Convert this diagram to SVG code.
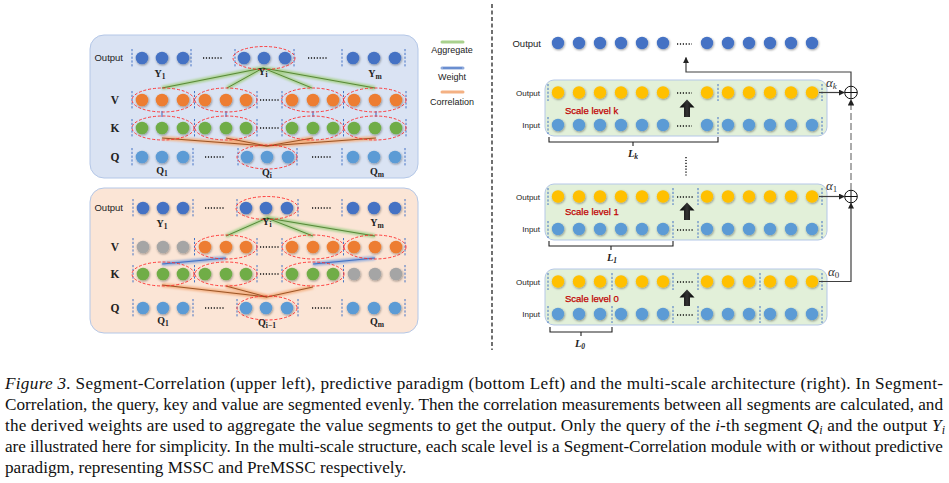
<svg xmlns="http://www.w3.org/2000/svg" width="949" height="483" viewBox="0 0 949 483">
<defs>
<filter id="sh" x="-60%" y="-60%" width="220%" height="220%"><feDropShadow dx="0.6" dy="1" stdDeviation="0.8" flood-color="#000" flood-opacity="0.4"/></filter>
<filter id="glow" x="-20%" y="-80%" width="140%" height="260%"><feGaussianBlur stdDeviation="1.1"/></filter>
<marker id="ah" viewBox="0 0 6 6" refX="5.6" refY="3" markerWidth="5" markerHeight="5" orient="auto"><path d="M0,0 L6,3 L0,6 z" fill="#222"/></marker>
<linearGradient id="arrg" x1="0" y1="0" x2="1" y2="0"><stop offset="0" stop-color="#000"/><stop offset="0.5" stop-color="#333"/><stop offset="1" stop-color="#000"/></linearGradient>
<style>
.cb{fill:#4472C4}.cq{fill:#5B9BD5}.co{fill:#ED7D31}.cg{fill:#70AD47}.cx{fill:#A5A5A5}.cy{fill:#FFC000}
.ell{fill:none;stroke:#FF2a2a;stroke-width:0.9;stroke-dasharray:3 1.8}
.sep{stroke:#4472C4;stroke-width:1;stroke-dasharray:2.2 1.6}
.dots{stroke:#111;stroke-width:1.4;stroke-dasharray:1.2 1.7}
.gg{stroke:#A9D18E;stroke-width:4;fill:none;filter:url(#glow)}
.gl{stroke:#4E7F2E;stroke-width:0.9;fill:none}
.bg{stroke:#8FAADC;stroke-width:4;fill:none;filter:url(#glow)}
.bl{stroke:#4472C4;stroke-width:1.1;fill:none}
.og{stroke:#F4B183;stroke-width:4;fill:none;filter:url(#glow)}
.ol{stroke:#843C0C;stroke-width:0.8;fill:none}
.rowlab{font-family:"Liberation Serif",serif;font-weight:bold;font-size:11.5px;fill:#222;text-anchor:middle}
.outlab{font-family:"Liberation Sans",Arial,sans-serif;font-size:9.5px;fill:#222;text-anchor:end}
.lab{font-family:"Liberation Serif",serif;font-weight:bold;font-size:10px;fill:#222;text-anchor:middle}
.sub{font-size:7.5px}
.asub{font-size:9px}
.leg{font-family:"Liberation Sans",Arial,sans-serif;font-size:9px;fill:#222;text-anchor:middle}
.small{font-family:"Liberation Sans",Arial,sans-serif;font-size:8px;fill:#222;text-anchor:end}
.red{font-family:"Liberation Sans",Arial,sans-serif;font-size:9.5px;fill:#C00000;stroke:#C00000;stroke-width:0.25}
.alpha{font-family:"Liberation Serif",serif;font-style:italic;font-size:13px;fill:#333}
.L{font-family:"Liberation Serif",serif;font-style:italic;font-weight:bold;font-size:10.5px;fill:#222;text-anchor:middle}
.box{fill:#E2F0D9;stroke:#B4C7E7;stroke-width:1}
.conn{stroke:#404040;stroke-width:1.2;fill:none}
.cap{font-family:"Liberation Serif","Times New Roman",serif;font-size:17.2px;fill:#111}
</style>
</defs>

<!-- ============ Upper-left: Segment-Correlation ============ -->
<g id="panel-segment-correlation">
<rect x="90" y="35" width="328" height="143" rx="14" fill="#DAE3F3" stroke="#B4C7E7"/>
<text class="outlab" x="123" y="61">Output</text>
<text class="rowlab" x="115" y="104">V</text>
<text class="rowlab" x="115" y="132">K</text>
<text class="rowlab" x="115" y="161">Q</text>
</g>

<g id="connectors-upper">
<g>
<polyline class="gg" points="162,88 263,68 227,88"/><polyline class="gg" points="312,88 263,68 375,88"/>
<line class="gl" x1="263" y1="68" x2="162" y2="88"/><line class="gl" x1="263" y1="68" x2="227" y2="88"/>
<line class="gl" x1="263" y1="68" x2="312" y2="88"/><line class="gl" x1="263" y1="68" x2="375" y2="88"/>
</g>
<g>
<line class="bg" x1="162" y1="111" x2="162" y2="117"/><line class="bg" x1="226" y1="111" x2="226" y2="117"/>
<line class="bg" x1="313" y1="111" x2="313" y2="117"/><line class="bg" x1="376" y1="111" x2="376" y2="117"/>
<line class="bl" x1="162" y1="111" x2="162" y2="117"/><line class="bl" x1="226" y1="111" x2="226" y2="117"/>
<line class="bl" x1="313" y1="111" x2="313" y2="117"/><line class="bl" x1="376" y1="111" x2="376" y2="117"/>
</g>
<g>
<polyline class="og" points="162,138 267,146 226,138"/><polyline class="og" points="313,138 267,146 376,138"/>
<line class="ol" x1="162" y1="138" x2="267" y2="146"/><line class="ol" x1="226" y1="138" x2="267" y2="146"/>
<line class="ol" x1="313" y1="138" x2="267" y2="146"/><line class="ol" x1="376" y1="138" x2="267" y2="146"/>
</g>
</g>

<g id="upper-output">
<g filter="url(#sh)" class="cb"><circle cx="142" cy="58" r="6.3"/><circle cx="162" cy="58" r="6.3"/><circle cx="183" cy="58" r="6.3"/><circle cx="244" cy="58" r="6.3"/><circle cx="264" cy="58" r="6.3"/><circle cx="285" cy="58" r="6.3"/><circle cx="353" cy="58" r="6.3"/><circle cx="374" cy="58" r="6.3"/><circle cx="395" cy="58" r="6.3"/></g>
<line class="sep" x1="132" y1="49" x2="132" y2="67"/><line class="sep" x1="191" y1="49" x2="191" y2="67"/><line class="sep" x1="235" y1="49" x2="235" y2="67"/><line class="sep" x1="294" y1="49" x2="294" y2="67"/><line class="sep" x1="342" y1="49" x2="342" y2="67"/><line class="sep" x1="405" y1="49" x2="405" y2="67"/>
<line class="dots" x1="203" y1="58" x2="222" y2="58"/><line class="dots" x1="308" y1="58" x2="328" y2="58"/>
<ellipse class="ell" cx="264" cy="58" rx="31" ry="11.5"/>
<text class="lab" x="160" y="77">Y<tspan class="sub" dy="2">1</tspan></text>
<text class="lab" x="263" y="75">Y<tspan class="sub" dy="2">i</tspan></text>
<text class="lab" x="375" y="77">Y<tspan class="sub" dy="2">m</tspan></text>
</g>

<g id="upper-V">
<g filter="url(#sh)" class="co"><circle cx="142" cy="100" r="6.3"/><circle cx="162" cy="100" r="6.3"/><circle cx="183" cy="100" r="6.3"/><circle cx="205" cy="100" r="6.3"/><circle cx="226" cy="100" r="6.3"/><circle cx="246" cy="100" r="6.3"/><circle cx="292" cy="100" r="6.3"/><circle cx="313" cy="100" r="6.3"/><circle cx="333" cy="100" r="6.3"/><circle cx="354" cy="100" r="6.3"/><circle cx="375" cy="100" r="6.3"/><circle cx="396" cy="100" r="6.3"/></g>
<line class="sep" x1="132" y1="91" x2="132" y2="109"/><line class="sep" x1="194.5" y1="91" x2="194.5" y2="109"/><line class="sep" x1="257" y1="91" x2="257" y2="109"/><line class="sep" x1="282" y1="91" x2="282" y2="109"/><line class="sep" x1="343.5" y1="91" x2="343.5" y2="109"/><line class="sep" x1="406" y1="91" x2="406" y2="109"/>
<line class="dots" x1="260" y1="100" x2="279" y2="100"/>
<ellipse class="ell" cx="163" cy="100" rx="31" ry="12"/><ellipse class="ell" cx="226" cy="100" rx="31" ry="12"/><ellipse class="ell" cx="312.5" cy="100" rx="31" ry="12"/><ellipse class="ell" cx="375" cy="100" rx="31" ry="12"/>
</g>

<g id="upper-K">
<g filter="url(#sh)" class="cg"><circle cx="142" cy="128" r="6.3"/><circle cx="162" cy="128" r="6.3"/><circle cx="183" cy="128" r="6.3"/><circle cx="205" cy="128" r="6.3"/><circle cx="226" cy="128" r="6.3"/><circle cx="246" cy="128" r="6.3"/><circle cx="292" cy="128" r="6.3"/><circle cx="313" cy="128" r="6.3"/><circle cx="333" cy="128" r="6.3"/><circle cx="354" cy="128" r="6.3"/><circle cx="375" cy="128" r="6.3"/><circle cx="396" cy="128" r="6.3"/></g>
<line class="sep" x1="132" y1="119" x2="132" y2="137"/><line class="sep" x1="194.5" y1="119" x2="194.5" y2="137"/><line class="sep" x1="257" y1="119" x2="257" y2="137"/><line class="sep" x1="282" y1="119" x2="282" y2="137"/><line class="sep" x1="343.5" y1="119" x2="343.5" y2="137"/><line class="sep" x1="406" y1="119" x2="406" y2="137"/>
<line class="dots" x1="260" y1="128" x2="279" y2="128"/>
<ellipse class="ell" cx="163" cy="128" rx="31" ry="12"/><ellipse class="ell" cx="226" cy="128" rx="31" ry="12"/><ellipse class="ell" cx="312.5" cy="128" rx="31" ry="12"/><ellipse class="ell" cx="375" cy="128" rx="31" ry="12"/>
</g>

<g id="upper-Q">
<g filter="url(#sh)" class="cq"><circle cx="142" cy="157" r="6.3"/><circle cx="162" cy="157" r="6.3"/><circle cx="183" cy="157" r="6.3"/><circle cx="247" cy="157" r="6.3"/><circle cx="267" cy="157" r="6.3"/><circle cx="288" cy="157" r="6.3"/><circle cx="353" cy="157" r="6.3"/><circle cx="374" cy="157" r="6.3"/><circle cx="395" cy="157" r="6.3"/></g>
<line class="sep" x1="132" y1="148" x2="132" y2="166"/><line class="sep" x1="193" y1="148" x2="193" y2="166"/><line class="sep" x1="238" y1="148" x2="238" y2="166"/><line class="sep" x1="297" y1="148" x2="297" y2="166"/><line class="sep" x1="342" y1="148" x2="342" y2="166"/><line class="sep" x1="405" y1="148" x2="405" y2="166"/>
<line class="dots" x1="205" y1="157" x2="224" y2="157"/><line class="dots" x1="312" y1="157" x2="331" y2="157"/>
<ellipse class="ell" cx="267" cy="157" rx="30" ry="12"/>
<text class="lab" x="162" y="174">Q<tspan class="sub" dy="2">1</tspan></text>
<text class="lab" x="267" y="176">Q<tspan class="sub" dy="2">i</tspan></text>
<text class="lab" x="377" y="175">Q<tspan class="sub" dy="2">m</tspan></text>
</g>

<!-- ============ Lower-left: predictive paradigm ============ -->
<g id="panel-predictive-paradigm">
<rect x="90" y="188" width="328" height="145" rx="14" fill="#FBE5D6" stroke="#B4C7E7"/>
<text class="outlab" x="123" y="211">Output</text>
<text class="rowlab" x="115" y="251">V</text>
<text class="rowlab" x="115" y="278">K</text>
<text class="rowlab" x="115" y="312">Q</text>
</g>

<g id="connectors-lower">
<g>
<polyline class="gg" points="226,236 267,218 313,236"/><line class="gg" x1="267" y1="218" x2="375" y2="236"/>
<line class="gl" x1="267" y1="218" x2="226" y2="236"/><line class="gl" x1="267" y1="218" x2="313" y2="236"/><line class="gl" x1="267" y1="218" x2="375" y2="236"/>
</g>
<g>
<line class="bg" x1="162" y1="264" x2="226" y2="258"/><line class="bg" x1="313" y1="264" x2="375" y2="258"/>
<line class="bl" x1="162" y1="264" x2="226" y2="258"/><line class="bl" x1="313" y1="264" x2="375" y2="258"/>
</g>
<g>
<polyline class="og" points="162,285 267,297 313,287"/><line class="og" x1="226" y1="286" x2="267" y2="297"/>
<line class="ol" x1="162" y1="285" x2="267" y2="297"/><line class="ol" x1="226" y1="286" x2="267" y2="297"/><line class="ol" x1="313" y1="287" x2="267" y2="297"/>
</g>
</g>

<g id="lower-output">
<g filter="url(#sh)" class="cb"><circle cx="143" cy="208" r="6.3"/><circle cx="163" cy="208" r="6.3"/><circle cx="183" cy="208" r="6.3"/><circle cx="246" cy="208" r="6.3"/><circle cx="266" cy="208" r="6.3"/><circle cx="287" cy="208" r="6.3"/><circle cx="353" cy="208" r="6.3"/><circle cx="374" cy="208" r="6.3"/><circle cx="395" cy="208" r="6.3"/></g>
<line class="sep" x1="133" y1="199" x2="133" y2="217"/><line class="sep" x1="193" y1="199" x2="193" y2="217"/><line class="sep" x1="237" y1="199" x2="237" y2="217"/><line class="sep" x1="298" y1="199" x2="298" y2="217"/><line class="sep" x1="342" y1="199" x2="342" y2="217"/><line class="sep" x1="405" y1="199" x2="405" y2="217"/>
<line class="dots" x1="205" y1="208" x2="224" y2="208"/><line class="dots" x1="312" y1="208" x2="331" y2="208"/>
<ellipse class="ell" cx="267" cy="208" rx="31" ry="11.5"/>
<text class="lab" x="162" y="227">Y<tspan class="sub" dy="2">1</tspan></text>
<text class="lab" x="267" y="225">Y<tspan class="sub" dy="2">i</tspan></text>
<text class="lab" x="377" y="226">Y<tspan class="sub" dy="2">m</tspan></text>
</g>

<g id="lower-V">
<g filter="url(#sh)"><circle class="cx" cx="143" cy="247" r="6.3"/><circle class="cx" cx="163" cy="247" r="6.3"/><circle class="cx" cx="183" cy="247" r="6.3"/><circle class="co" cx="205" cy="247" r="6.3"/><circle class="co" cx="226" cy="247" r="6.3"/><circle class="co" cx="246" cy="247" r="6.3"/><circle class="co" cx="292" cy="247" r="6.3"/><circle class="co" cx="313" cy="247" r="6.3"/><circle class="co" cx="333" cy="247" r="6.3"/><circle class="co" cx="354" cy="247" r="6.3"/><circle class="co" cx="375" cy="247" r="6.3"/><circle class="co" cx="396" cy="247" r="6.3"/></g>
<line class="sep" x1="133" y1="238" x2="133" y2="256"/><line class="sep" x1="194.5" y1="238" x2="194.5" y2="256"/><line class="sep" x1="257" y1="238" x2="257" y2="256"/><line class="sep" x1="282" y1="238" x2="282" y2="256"/><line class="sep" x1="343.5" y1="238" x2="343.5" y2="256"/><line class="sep" x1="405" y1="238" x2="405" y2="256"/>
<line class="dots" x1="260" y1="247" x2="279" y2="247"/>
<ellipse class="ell" cx="226" cy="247" rx="31" ry="12"/><ellipse class="ell" cx="313" cy="247" rx="31" ry="12"/><ellipse class="ell" cx="375" cy="247" rx="31" ry="12"/>
</g>

<g id="lower-K">
<g filter="url(#sh)"><circle class="cg" cx="143" cy="274" r="6.3"/><circle class="cg" cx="163" cy="274" r="6.3"/><circle class="cg" cx="183" cy="274" r="6.3"/><circle class="cg" cx="205" cy="274" r="6.3"/><circle class="cg" cx="226" cy="274" r="6.3"/><circle class="cg" cx="246" cy="274" r="6.3"/><circle class="cg" cx="292" cy="274" r="6.3"/><circle class="cg" cx="313" cy="274" r="6.3"/><circle class="cg" cx="333" cy="274" r="6.3"/><circle class="cx" cx="354" cy="274" r="6.3"/><circle class="cx" cx="375" cy="274" r="6.3"/><circle class="cx" cx="396" cy="274" r="6.3"/></g>
<line class="sep" x1="133" y1="265" x2="133" y2="283"/><line class="sep" x1="194.5" y1="265" x2="194.5" y2="283"/><line class="sep" x1="257" y1="265" x2="257" y2="283"/><line class="sep" x1="282" y1="265" x2="282" y2="283"/><line class="sep" x1="343.5" y1="265" x2="343.5" y2="283"/><line class="sep" x1="405" y1="265" x2="405" y2="283"/>
<line class="dots" x1="260" y1="274" x2="279" y2="274"/>
<ellipse class="ell" cx="163" cy="274" rx="31" ry="12"/><ellipse class="ell" cx="226" cy="274" rx="31" ry="12"/><ellipse class="ell" cx="313" cy="274" rx="31" ry="12"/>
</g>

<g id="lower-Q">
<g filter="url(#sh)" class="cq"><circle cx="143" cy="308" r="6.3"/><circle cx="163" cy="308" r="6.3"/><circle cx="183" cy="308" r="6.3"/><circle cx="246" cy="308" r="6.3"/><circle cx="266" cy="308" r="6.3"/><circle cx="287" cy="308" r="6.3"/><circle cx="353" cy="308" r="6.3"/><circle cx="374" cy="308" r="6.3"/><circle cx="395" cy="308" r="6.3"/></g>
<line class="sep" x1="133" y1="299" x2="133" y2="317"/><line class="sep" x1="193" y1="299" x2="193" y2="317"/><line class="sep" x1="237" y1="299" x2="237" y2="317"/><line class="sep" x1="298" y1="299" x2="298" y2="317"/><line class="sep" x1="342" y1="299" x2="342" y2="317"/><line class="sep" x1="405" y1="299" x2="405" y2="317"/>
<line class="dots" x1="205" y1="308" x2="224" y2="308"/><line class="dots" x1="312" y1="308" x2="331" y2="308"/>
<ellipse class="ell" cx="267" cy="308" rx="30" ry="12"/>
<text class="lab" x="163" y="324">Q<tspan class="sub" dy="2">1</tspan></text>
<text class="lab" x="267" y="326">Q<tspan class="sub" dy="2">i−1</tspan></text>
<text class="lab" x="377" y="325">Q<tspan class="sub" dy="2">m</tspan></text>
</g>

<!-- legend -->
<g id="legend">
<line x1="442" y1="42" x2="463" y2="42" stroke="#A9D18E" stroke-width="3" stroke-linecap="round"/>
<text class="leg" x="452" y="53">Aggregate</text>
<line x1="442" y1="68" x2="463" y2="68" stroke="#8FAADC" stroke-width="3" stroke-linecap="round"/>
<line x1="443" y1="68" x2="462" y2="68" stroke="#4472C4" stroke-width="1"/>
<text class="leg" x="452" y="80">Weight</text>
<line x1="442" y1="92" x2="463" y2="92" stroke="#F4B183" stroke-width="3" stroke-linecap="round"/>
<text class="leg" x="452" y="105">Correlation</text>
</g>

<line id="divider" x1="492" y1="4" x2="492" y2="350" stroke="#111" stroke-width="1.2" stroke-dasharray="4 2.5"/>

<!-- ============ Right: multi-scale architecture ============ -->
<g id="final-output">
<text class="outlab" x="541" y="47" font-size="9.5">Output</text>
<g filter="url(#sh)" class="cb"><circle cx="558" cy="43" r="6.2"/><circle cx="579" cy="43" r="6.2"/><circle cx="600" cy="43" r="6.2"/><circle cx="621" cy="43" r="6.2"/><circle cx="642" cy="43" r="6.2"/><circle cx="663" cy="43" r="6.2"/><circle cx="707" cy="43" r="6.2"/><circle cx="728" cy="43" r="6.2"/><circle cx="749" cy="43" r="6.2"/><circle cx="770" cy="43" r="6.2"/><circle cx="791" cy="43" r="6.2"/><circle cx="812" cy="43" r="6.2"/></g>
<line class="dots" x1="677" y1="44" x2="692" y2="44"/>
</g>

<g id="scale-level-k">
<rect class="box" x="545" y="80" width="282" height="56" rx="9"/>
<text class="small" x="540" y="95.5">Output</text>
<text class="small" x="540" y="128">Input</text>
<text class="red" x="565" y="114">Scale level k</text>
<g filter="url(#sh)" class="cy"><circle cx="558" cy="92.5" r="6.2"/><circle cx="579" cy="92.5" r="6.2"/><circle cx="600" cy="92.5" r="6.2"/><circle cx="621" cy="92.5" r="6.2"/><circle cx="642" cy="92.5" r="6.2"/><circle cx="663" cy="92.5" r="6.2"/><circle cx="707" cy="92.5" r="6.2"/><circle cx="728" cy="92.5" r="6.2"/><circle cx="749" cy="92.5" r="6.2"/><circle cx="770" cy="92.5" r="6.2"/><circle cx="791" cy="92.5" r="6.2"/><circle cx="812" cy="92.5" r="6.2"/></g>
<g filter="url(#sh)" class="cq"><circle cx="558" cy="125" r="6.2"/><circle cx="579" cy="125" r="6.2"/><circle cx="600" cy="125" r="6.2"/><circle cx="621" cy="125" r="6.2"/><circle cx="642" cy="125" r="6.2"/><circle cx="663" cy="125" r="6.2"/><circle cx="707" cy="125" r="6.2"/><circle cx="728" cy="125" r="6.2"/><circle cx="749" cy="125" r="6.2"/><circle cx="770" cy="125" r="6.2"/><circle cx="791" cy="125" r="6.2"/><circle cx="812" cy="125" r="6.2"/></g>
<line class="dots" x1="677" y1="93" x2="692" y2="93"/><line class="dots" x1="677" y1="126" x2="692" y2="126"/>
<g class="sep"><line x1="548" y1="84" x2="548" y2="101"/><line x1="548" y1="117" x2="548" y2="134"/><line x1="718" y1="84" x2="718" y2="101"/><line x1="718" y1="117" x2="718" y2="134"/><line x1="822" y1="84" x2="822" y2="101"/><line x1="822" y1="117" x2="822" y2="134"/></g>
<polygon points="687,99.5 694.5,107.5 690,107.5 690,117 684,117 684,107.5 679.5,107.5" fill="url(#arrg)"/>
<path d="M549,137 V142 H633 V146 M633,142 H718 V137" fill="none" stroke="#222" stroke-width="1.1"/>
<text class="L" x="633" y="157">L<tspan class="sub" dy="2">k</tspan></text>
</g>

<line id="vdots" x1="686" y1="157" x2="686" y2="176" stroke="#111" stroke-width="1.4" stroke-dasharray="1.2 1.7"/>

<g id="scale-level-1">
<rect class="box" x="545" y="184" width="282" height="56" rx="9"/>
<text class="small" x="540" y="199.5">Output</text>
<text class="small" x="540" y="232">Input</text>
<text class="red" x="565" y="215">Scale level 1</text>
<g filter="url(#sh)" class="cy"><circle cx="558" cy="196.5" r="6.2"/><circle cx="579" cy="196.5" r="6.2"/><circle cx="600" cy="196.5" r="6.2"/><circle cx="621" cy="196.5" r="6.2"/><circle cx="642" cy="196.5" r="6.2"/><circle cx="663" cy="196.5" r="6.2"/><circle cx="707" cy="196.5" r="6.2"/><circle cx="728" cy="196.5" r="6.2"/><circle cx="749" cy="196.5" r="6.2"/><circle cx="770" cy="196.5" r="6.2"/><circle cx="791" cy="196.5" r="6.2"/><circle cx="812" cy="196.5" r="6.2"/></g>
<g filter="url(#sh)" class="cq"><circle cx="558" cy="229" r="6.2"/><circle cx="579" cy="229" r="6.2"/><circle cx="600" cy="229" r="6.2"/><circle cx="621" cy="229" r="6.2"/><circle cx="642" cy="229" r="6.2"/><circle cx="663" cy="229" r="6.2"/><circle cx="707" cy="229" r="6.2"/><circle cx="728" cy="229" r="6.2"/><circle cx="749" cy="229" r="6.2"/><circle cx="770" cy="229" r="6.2"/><circle cx="791" cy="229" r="6.2"/><circle cx="812" cy="229" r="6.2"/></g>
<line class="dots" x1="677" y1="197" x2="693" y2="197"/><line class="dots" x1="677" y1="230" x2="693" y2="230"/>
<g class="sep"><line x1="548" y1="188" x2="548" y2="205"/><line x1="548" y1="221" x2="548" y2="238"/><line x1="673" y1="188" x2="673" y2="205"/><line x1="673" y1="221" x2="673" y2="238"/><line x1="698" y1="188" x2="698" y2="205"/><line x1="698" y1="221" x2="698" y2="238"/><line x1="822" y1="188" x2="822" y2="205"/><line x1="822" y1="221" x2="822" y2="238"/></g>
<polygon points="687,202.5 694.5,210.5 690,210.5 690,220 684,220 684,210.5 679.5,210.5" fill="url(#arrg)"/>
<path d="M549,241 V246 H611 V250 M611,246 H673 V241" fill="none" stroke="#222" stroke-width="1.1"/>
<text class="L" x="612" y="261">L<tspan class="sub" dy="2">1</tspan></text>
</g>

<g id="scale-level-0">
<rect class="box" x="545" y="269" width="282" height="56" rx="9"/>
<text class="small" x="540" y="284.5">Output</text>
<text class="small" x="540" y="317">Input</text>
<text class="red" x="565" y="302">Scale level 0</text>
<g filter="url(#sh)" class="cy"><circle cx="558" cy="281.5" r="6.2"/><circle cx="579" cy="281.5" r="6.2"/><circle cx="600" cy="281.5" r="6.2"/><circle cx="621" cy="281.5" r="6.2"/><circle cx="642" cy="281.5" r="6.2"/><circle cx="663" cy="281.5" r="6.2"/><circle cx="707" cy="281.5" r="6.2"/><circle cx="728" cy="281.5" r="6.2"/><circle cx="749" cy="281.5" r="6.2"/><circle cx="770" cy="281.5" r="6.2"/><circle cx="791" cy="281.5" r="6.2"/><circle cx="812" cy="281.5" r="6.2"/></g>
<g filter="url(#sh)" class="cq"><circle cx="558" cy="314" r="6.2"/><circle cx="579" cy="314" r="6.2"/><circle cx="600" cy="314" r="6.2"/><circle cx="621" cy="314" r="6.2"/><circle cx="642" cy="314" r="6.2"/><circle cx="663" cy="314" r="6.2"/><circle cx="707" cy="314" r="6.2"/><circle cx="728" cy="314" r="6.2"/><circle cx="749" cy="314" r="6.2"/><circle cx="770" cy="314" r="6.2"/><circle cx="791" cy="314" r="6.2"/><circle cx="812" cy="314" r="6.2"/></g>
<line class="dots" x1="677" y1="282" x2="693" y2="282"/><line class="dots" x1="677" y1="315" x2="693" y2="315"/>
<g class="sep"><line x1="548" y1="273" x2="548" y2="290"/><line x1="548" y1="306" x2="548" y2="323"/><line x1="612" y1="273" x2="612" y2="290"/><line x1="612" y1="306" x2="612" y2="323"/><line x1="673" y1="273" x2="673" y2="290"/><line x1="673" y1="306" x2="673" y2="323"/><line x1="698" y1="273" x2="698" y2="290"/><line x1="698" y1="306" x2="698" y2="323"/><line x1="760" y1="273" x2="760" y2="290"/><line x1="760" y1="306" x2="760" y2="323"/><line x1="822" y1="273" x2="822" y2="290"/><line x1="822" y1="306" x2="822" y2="323"/></g>
<polygon points="687,289.5 694.5,297.5 690,297.5 690,306 684,306 684,297.5 679.5,297.5" fill="url(#arrg)"/>
<path d="M550,327 V332 H581 V336 M581,332 H612 V327" fill="none" stroke="#222" stroke-width="1.1"/>
<text class="L" x="580" y="347">L<tspan class="sub" dy="2">0</tspan></text>
</g>

<g id="sum-k">
<circle cx="851" cy="92.5" r="6.3" fill="#fff" stroke="#111" stroke-width="1"/>
<path d="M844.7,92.5 H857.3 M851,86.2 V98.8" stroke="#111" stroke-width="1"/>
</g>
<g id="sum-1">
<circle cx="851" cy="196.5" r="6.3" fill="#fff" stroke="#111" stroke-width="1"/>
<path d="M844.7,196.5 H857.3 M851,190.2 V202.8" stroke="#111" stroke-width="1"/>
</g>

<g id="connectors-right">
<line class="conn" x1="819" y1="92.5" x2="844.5" y2="92.5" marker-end="url(#ah)"/>
<line class="conn" x1="819" y1="196.5" x2="844.5" y2="196.5" marker-end="url(#ah)"/>
<polyline class="conn" points="819,281.5 851,281.5 851,203" marker-end="url(#ah)"/>
<line x1="851" y1="190" x2="851" y2="99.5" stroke="#7F7F7F" stroke-width="1.3" stroke-dasharray="7 3" marker-end="url(#ah)"/>
<polyline class="conn" points="851,86 851,72 686,72 686,57.5" marker-end="url(#ah)"/>
<text class="alpha" x="826" y="87">α<tspan class="asub" dy="2">k</tspan></text>
<text class="alpha" x="826" y="190">α<tspan class="asub" dy="2" font-style="normal">1</tspan></text>
<text class="alpha" x="828" y="276">α<tspan class="asub" dy="2" font-style="normal">0</tspan></text>
</g>

<!-- ============ Caption ============ -->
<g id="caption" class="cap">
<text x="5" y="389" textLength="938" lengthAdjust="spacing"><tspan font-style="italic">Figure 3.</tspan> Segment-Correlation (upper left), predictive paradigm (bottom Left) and the multi-scale architecture (right).  In Segment-</text>
<text x="5" y="410" textLength="938" lengthAdjust="spacing">Correlation, the query, key and value are segmented evenly. Then the correlation measurements between all segments are calculated, and</text>
<text x="5" y="431" textLength="940" lengthAdjust="spacing">the derived weights are used to aggregate the value segments to get the output. Only the query of the <tspan font-style="italic">i</tspan>-th segment <tspan font-style="italic">Q</tspan><tspan font-style="italic" font-size="12" dy="3">i</tspan><tspan dy="-3"> and the output </tspan><tspan font-style="italic">Y</tspan><tspan font-style="italic" font-size="12" dy="3">i</tspan></text>
<text x="5" y="452" textLength="938" lengthAdjust="spacing">are illustrated here for simplicity. In the multi-scale structure, each scale level is a Segment-Correlation module with or without predictive</text>
<text x="5" y="473">paradigm, representing MSSC and PreMSSC respectively.</text>
</g>
</svg>
